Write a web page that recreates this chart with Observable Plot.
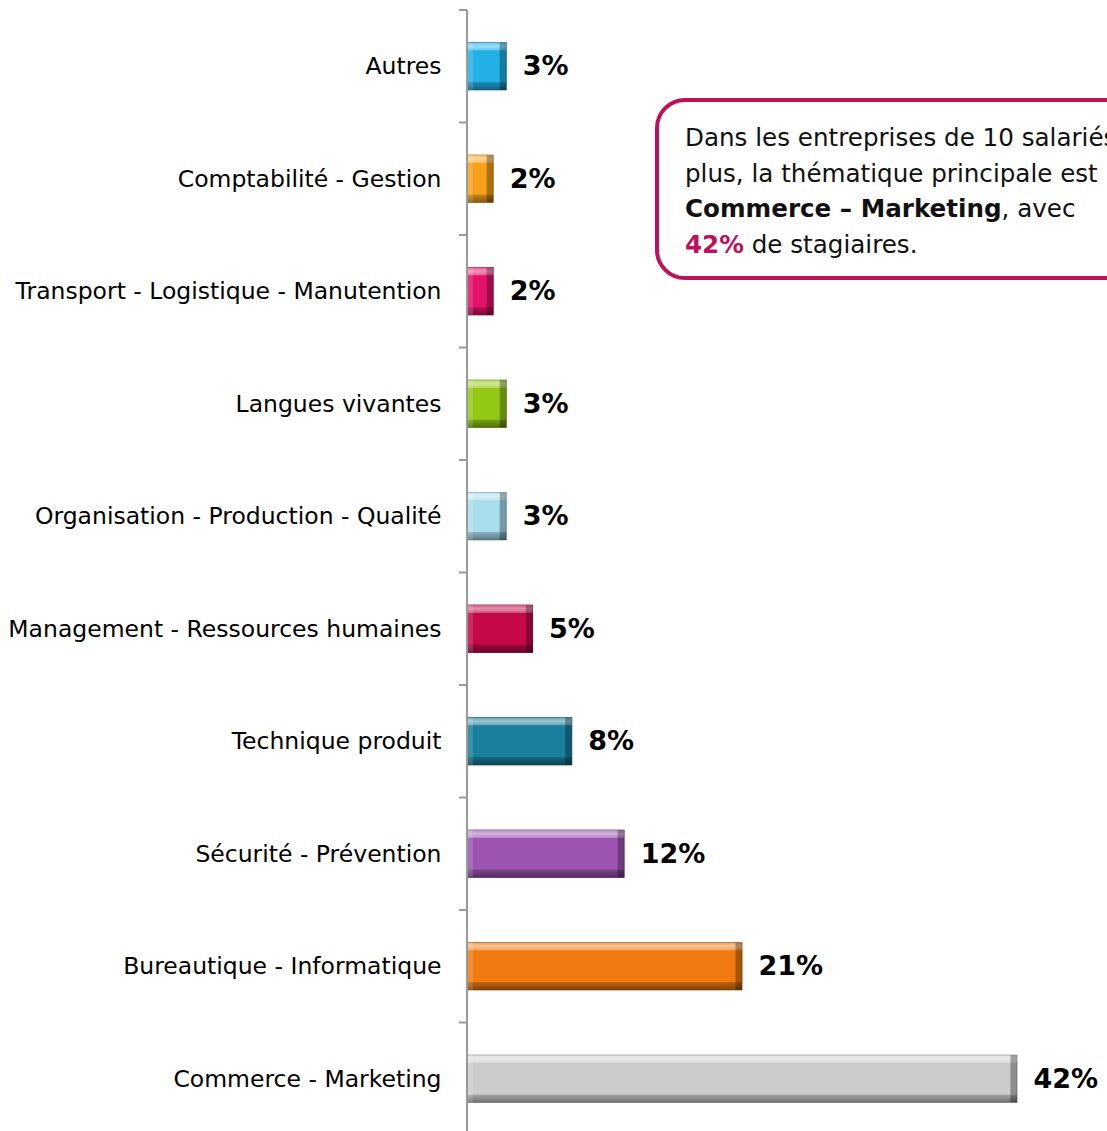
<!DOCTYPE html>
<html>
<head>
<meta charset="utf-8">
<script src="https://cdn.jsdelivr.net/npm/d3@7"></script>
<script src="https://cdn.jsdelivr.net/npm/@observablehq/plot@0.6"></script>
<style>
  html, body { margin: 0; padding: 0; background: #fff; overflow: hidden; width: 1107px; height: 1131px; }
  #wrap { position: relative; width: 1107px; height: 1131px; overflow: hidden; }
  #note {
    position: absolute; left: 655px; top: 98px; width: 580px; height: 174px;
    border: 4px solid #C0105A; border-radius: 30px; box-sizing: content-box;
    font-family: "DejaVu Sans", sans-serif; font-size: 24.6px; line-height: 35.5px;
    color: #111; white-space: nowrap; padding: 0;
  }
  #note .inner { position: absolute; left: 26px; top: 18px; }
  #note b.hl { color: #C0105A; }
</style>
</head>
<body>
<div id="wrap">
  <div id="chart"></div>
  <div id="note"><div class="inner">Dans les entreprises de 10 salariés et<br>plus, la thématique principale est<br><b>Commerce – Marketing</b>, avec<br><b class="hl">42%</b> de stagiaires.</div></div>
</div>
<script>
const categories = [
  "Autres",
  "Comptabilité - Gestion",
  "Transport - Logistique - Manutention",
  "Langues vivantes",
  "Organisation - Production - Qualité",
  "Management - Ressources humaines",
  "Technique produit",
  "Sécurité - Prévention",
  "Bureautique - Informatique",
  "Commerce - Marketing"
];
const values = [3, 2, 2, 3, 3, 5, 8, 12, 21, 42];
const colors = ["#22B0E6", "#F5A01A", "#E4126A", "#92C814", "#A8DDEB", "#C4084A", "#1A7F9C", "#9B55B0", "#F07A10", "#CCCCCC"];

const data = categories.map((c, i) => ({ category: c, value: values[i], color: colors[i] }));

const svg = Plot.plot({
  width: 1107,
  height: 1131,
  marginLeft: 467,
  marginRight: 90,
  marginTop: 10,
  marginBottom: -4,
  style: { fontFamily: "DejaVu Sans, sans-serif", background: "#fff", overflow: "visible" },
  x: { domain: [0, 42], axis: null },
  y: { domain: categories, paddingInner: 0.58, paddingOuter: 0.29, round: false, label: null },
  marks: [
    Plot.axisY({ tickSize: 0, tickPadding: 26, fontSize: 23.5, fill: "#000", label: null }),
    Plot.barX(data, { y: "category", x: "value", fill: "color", stroke: d => d3.color(d.color).darker(0.8).formatHex(), strokeWidth: 1 }),
    Plot.barX(data, { y: "category", x: "value", fill: "url(#bevelV)" }),
    Plot.barX(data, { y: "category", x1: d => d.value - 0.5, x2: "value", fill: "#000", fillOpacity: 0.3 }),
    Plot.barX(data, { y: "category", x1: 0, x2: 0.45, fill: "#fff", fillOpacity: 0.15 }),
    Plot.text(data, { y: "category", x: "value", text: d => d.value + "%", dx: 16, textAnchor: "start", fontSize: 27, fontWeight: "bold", fill: "#000" })
  ]
});

const s = d3.select(svg);
const defs = s.insert("defs", ":first-child");
const g = defs.append("linearGradient").attr("id", "bevelV").attr("x1", 0).attr("y1", 0).attr("x2", 0).attr("y2", 1);
[
  [0, "#fff", 0.35], [0.08, "#fff", 0.55], [0.16, "#fff", 0.3], [0.17, "#fff", 0.0],
  [0.83, "#000", 0.0], [0.84, "#000", 0.2], [1, "#000", 0.45]
].forEach(([o, c, a]) => g.append("stop").attr("offset", o).attr("stop-color", c).attr("stop-opacity", a));

// Axis line and band-boundary ticks from the y scale
const y = svg.scale("y");
const x = svg.scale("x");
const x0 = x.apply(0);
const [r0, r1] = y.range;
const step = y.step;
const axisG = s.append("g").attr("stroke", "#9a9a9a").attr("stroke-width", 2);
axisG.append("line").attr("x1", x0).attr("x2", x0).attr("y1", r0).attr("y2", r1 + 10);
for (let i = 0; i <= categories.length; i++) {
  const yy = r0 + i * step;
  axisG.append("line").attr("x1", x0 - 8).attr("x2", x0).attr("y1", yy).attr("y2", yy);
}
document.getElementById("chart").appendChild(svg);
</script>
</body>
</html>
